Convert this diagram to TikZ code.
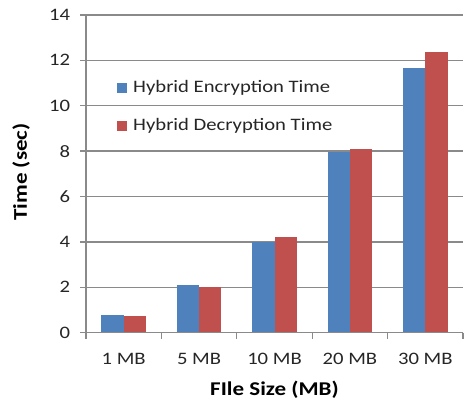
\documentclass[tikz,border=0pt]{standalone}
\usepackage{fontspec}
\setmainfont{Carlito}[FakeStretch=1.18]
\definecolor{encblue}{HTML}{4F81BD}
\definecolor{decred}{HTML}{C0504D}
\definecolor{gridgray}{HTML}{8A8A8A}
\definecolor{labeltext}{HTML}{262626}
\tikzset{
  gridline/.style={draw=gridgray, line width=1.3pt},
  ticklabel/.style={text=labeltext, font=\fontsize{17.5}{20}\selectfont, inner sep=0pt},
  axistitle/.style={text=black, font=\fontsize{19.5}{22}\selectfont\bfseries, inner sep=0pt},
  legendtext/.style={text=labeltext, font=\fontsize{17.5}{20}\selectfont, inner sep=0pt, anchor=west},
  encbar/.style={fill=encblue},
  decbar/.style={fill=decred},
}
\begin{document}
\begin{tikzpicture}[x=1pt,y=-1pt]
\useasboundingbox (0,0) rectangle (465,404);
\fill[white] (0,0) rectangle (465,404);
\begin{scope}[shift={(86,332.7)}, x=75.4pt, y=22.7pt]
  % grid lines with left ticks
  \foreach \v in {2,4,...,14} {
    \draw[gridline] (-0.08,\v) -- (5,\v);
  }
  % bars
  \foreach \i/\e/\d in {0/0.79/0.72, 1/2.1/2.03, 2/4.01/4.23, 3/7.97/8.08, 4/11.65/12.35} {
    \fill[encbar] (\i+0.205,0) rectangle (\i+0.5,\e);
    \fill[decbar] (\i+0.5,0) rectangle (\i+0.795,\d);
  }
  % axes
  \draw[gridline] (0,0) -- (0,14);
  \draw[gridline] (-0.08,0) -- (5,0);
  \foreach \i in {0,...,5} {
    \draw[gridline] (\i,0) -- (\i,-0.26);
  }
  % y tick labels
  \foreach \v in {0,2,...,14} {
    \node[ticklabel, anchor=east] (y\v) at (-0.21,\v) {\v};
  }
  % x tick labels
  \foreach \i/\t in {0/1 MB, 1/5 MB, 2/10 MB, 3/20 MB, 4/30 MB} {
    \node[ticklabel] (x\i) at (\i+0.5,-1.16) {\t};
  }
\end{scope}
% titles
\node[axistitle] (xtitle) at (274.5,390) {FIle Size (MB)};
\node[axistitle, rotate=90] (ytitle) at (21,172) {Time (sec)};
% legend
\fill[encbar] (117,83) rectangle (127,93);
\node[legendtext] (leg1) at (133,88) {Hybrid Encryption Time};
\fill[decbar] (117,121) rectangle (127,131);
\node[legendtext] (leg2) at (133,126) {Hybrid Decryption Time};
\end{tikzpicture}
\end{document}
